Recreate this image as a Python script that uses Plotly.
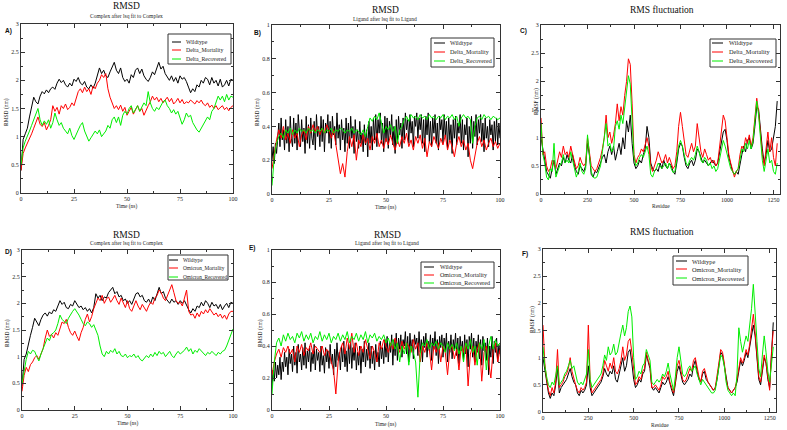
import plotly.graph_objects as go

W, H = 787, 430

# ---------------- DATA ----------------
series_names_delta = ["Wildtype", "Delta_Mortality", "Delta_Recovered"]
series_names_omi = ["Wildtype", "Omicron_Mortality", "Omicron_Recovered"]
colors = ["#000000", "#ff0000", "#00ee00"]

# Panel A: Complex RMSD (nm) vs time (ns), 1 ns spacing
A_wt = [0.40,0.95,1.05,1.15,1.35,1.55,1.70,1.62,1.58,1.72,
        1.80,1.76,1.83,1.78,1.85,1.88,1.84,1.95,2.02,1.96,
        2.00,1.92,1.88,1.95,1.90,2.02,1.98,2.05,1.95,1.92,
        1.98,1.88,1.85,1.92,1.86,1.95,2.10,2.22,2.12,2.18,
        2.08,2.05,2.15,2.25,2.32,2.18,2.12,2.22,2.05,1.98,
        2.02,1.95,2.10,2.05,2.18,2.22,2.12,2.20,2.08,2.02,
        1.98,2.05,2.15,2.10,2.22,2.32,2.20,2.25,2.12,2.05,
        2.00,2.08,1.98,2.05,1.95,2.08,2.02,2.05,1.98,1.88,
        1.78,1.85,1.80,1.92,1.88,2.00,1.95,2.05,2.02,1.92,
        2.05,1.95,2.00,1.90,2.02,1.88,1.92,2.00,1.90,2.02,
        2.00]
A_mort = [0.40,0.70,0.80,0.88,0.95,1.05,1.15,1.25,1.35,1.22,
          1.18,1.25,1.12,1.20,1.30,1.55,1.45,1.52,1.40,1.55,
          1.50,1.58,1.48,1.52,1.60,1.55,1.70,1.80,1.85,1.78,
          1.88,1.80,1.85,1.75,1.90,1.85,1.95,2.00,2.10,2.05,
          2.12,1.85,1.70,1.60,1.50,1.55,1.48,1.56,1.45,1.52,
          1.38,1.45,1.52,1.40,1.48,1.55,1.45,1.50,1.38,1.48,
          1.55,1.62,1.72,1.65,1.70,1.62,1.68,1.60,1.65,1.70,
          1.62,1.68,1.58,1.62,1.68,1.60,1.66,1.58,1.62,1.60,
          1.65,1.62,1.58,1.64,1.60,1.65,1.58,1.55,1.60,1.52,
          1.56,1.50,1.55,1.48,1.52,1.55,1.48,1.52,1.46,1.52,
          1.55]
A_rec = [0.50,0.80,0.92,1.00,1.10,1.20,1.30,1.42,1.50,1.30,
         1.20,1.28,1.22,1.30,1.15,1.25,1.42,1.30,1.20,1.25,
         1.15,1.10,1.05,1.15,1.02,0.95,1.05,1.12,1.20,1.25,
         1.10,1.02,0.92,0.98,1.05,1.10,1.05,1.12,1.00,1.05,
         1.10,1.20,1.15,1.30,1.35,1.25,1.35,1.20,1.38,1.45,
         1.40,1.50,1.55,1.42,1.48,1.55,1.45,1.52,1.60,1.55,
         1.80,1.60,1.50,1.45,1.52,1.48,1.55,1.62,1.65,1.55,
         1.50,1.42,1.48,1.40,1.45,1.35,1.22,1.30,1.42,1.35,
         1.38,1.25,1.18,1.12,1.08,1.15,1.20,1.28,1.35,1.30,
         1.45,1.50,1.62,1.72,1.65,1.72,1.62,1.75,1.65,1.72,
         1.70]

# Panel B: Ligand RMSD (nm) vs time (ns); wildtype stored every 0.5 ns
B_wt = [0.20,0.28,0.18,0.30,0.24,0.35,0.42,0.28,0.45,0.32,
        0.38,0.26,0.44,0.30,0.40,0.25,0.46,0.33,0.28,0.45,
        0.30,0.42,0.26,0.47,0.35,0.28,0.44,0.31,0.39,0.24,
        0.46,0.30,0.41,0.27,0.45,0.33,0.29,0.43,0.26,0.47,
        0.34,0.40,0.28,0.46,0.31,0.44,0.25,0.42,0.36,0.47,
        0.30,0.43,0.27,0.46,0.35,0.40,0.29,0.48,0.33,0.41,
        0.26,0.44,0.32,0.39,0.25,0.45,0.30,0.42,0.27,0.46,
        0.33,0.40,0.24,0.44,0.31,0.38,0.27,0.43,0.30,0.36,
        0.25,0.41,0.29,0.38,0.22,0.43,0.30,0.40,0.26,0.45,
        0.32,0.47,0.28,0.44,0.36,0.48,0.30,0.42,0.25,0.46,
        0.31,0.45,0.27,0.43,0.34,0.47,0.29,0.40,0.24,0.44,
        0.30,0.46,0.35,0.42,0.27,0.45,0.32,0.48,0.38,0.44,
        0.30,0.47,0.36,0.43,0.28,0.46,0.40,0.48,0.33,0.45,
        0.38,0.47,0.30,0.44,0.25,0.46,0.35,0.48,0.31,0.43,
        0.28,0.45,0.36,0.47,0.30,0.42,0.26,0.46,0.38,0.44,
        0.30,0.47,0.34,0.43,0.27,0.45,0.32,0.41,0.24,0.44,
        0.33,0.46,0.29,0.42,0.36,0.47,0.30,0.44,0.26,0.41,
        0.35,0.45,0.22,0.40,0.30,0.46,0.27,0.43,0.34,0.47,
        0.29,0.44,0.36,0.47,0.31,0.42,0.25,0.45,0.33,0.40,
        0.28,0.44,0.35,0.41,0.26,0.43,0.31,0.45,0.29,0.42,
        0.33]
B_mort = [0.15,0.25,0.32,0.38,0.33,0.40,0.32,0.36,0.30,0.38,
          0.33,0.36,0.28,0.35,0.38,0.32,0.40,0.36,0.41,0.37,
          0.40,0.35,0.39,0.36,0.41,0.38,0.33,0.38,0.30,0.22,
          0.12,0.18,0.10,0.25,0.34,0.28,0.35,0.20,0.32,0.28,
          0.35,0.30,0.33,0.26,0.34,0.30,0.36,0.28,0.32,0.27,
          0.33,0.29,0.35,0.30,0.26,0.32,0.28,0.34,0.30,0.36,
          0.28,0.32,0.26,0.34,0.30,0.35,0.27,0.33,0.22,0.31,
          0.28,0.34,0.30,0.27,0.33,0.29,0.35,0.26,0.32,0.28,
          0.22,0.30,0.34,0.28,0.32,0.26,0.30,0.20,0.15,0.22,
          0.30,0.34,0.28,0.32,0.26,0.30,0.33,0.28,0.31,0.27,
          0.30]
B_rec = [0.05,0.22,0.30,0.34,0.36,0.33,0.38,0.36,0.39,0.35,
         0.38,0.36,0.39,0.37,0.38,0.36,0.39,0.37,0.38,0.36,
         0.38,0.37,0.39,0.36,0.38,0.37,0.39,0.36,0.38,0.37,
         0.39,0.38,0.36,0.38,0.37,0.39,0.36,0.38,0.37,0.35,
         0.38,0.34,0.40,0.45,0.43,0.46,0.44,0.48,0.42,0.36,
         0.40,0.38,0.41,0.37,0.40,0.30,0.38,0.40,0.44,0.46,
         0.43,0.47,0.45,0.46,0.44,0.47,0.45,0.46,0.44,0.47,
         0.45,0.46,0.44,0.46,0.45,0.47,0.44,0.46,0.45,0.47,
         0.44,0.46,0.40,0.45,0.47,0.45,0.46,0.44,0.30,0.40,
         0.45,0.46,0.44,0.47,0.45,0.46,0.44,0.46,0.45,0.44,
         0.45]

# Panel C: RMSF (nm) vs residue, 10-residue spacing
C_wt = [1.00,0.75,0.60,0.40,0.35,0.28,0.45,0.60,0.35,0.45,
        0.55,0.50,0.65,0.55,0.70,0.60,0.55,0.70,0.50,0.40,
        0.35,0.50,0.45,0.40,0.50,0.90,0.70,0.35,0.30,0.40,
        0.38,0.45,0.55,0.65,0.70,0.55,0.75,0.85,0.70,0.85,
        0.60,0.75,0.90,0.70,1.00,0.80,1.30,1.10,1.40,0.90,
        0.55,0.45,0.50,0.60,0.55,0.70,0.80,1.20,1.00,0.55,
        0.45,0.40,0.45,0.40,0.55,0.45,0.60,0.50,0.45,0.55,
        0.50,0.40,0.35,0.55,0.80,0.90,0.85,0.65,0.50,0.45,
        0.55,0.60,0.50,0.60,0.80,0.75,0.65,0.55,0.60,0.55,
        0.50,0.55,0.60,0.55,0.50,0.55,0.75,0.90,1.10,1.15,
        0.95,0.65,0.50,0.40,0.35,0.40,0.35,0.55,0.70,0.85,
        0.75,0.95,1.00,0.80,0.90,1.20,1.55,1.50,1.10,0.80,
        0.55,0.70,0.95,0.75,0.80,1.00,1.20,1.65]
C_mort = [1.35,0.70,0.75,0.50,0.40,0.45,0.60,0.55,0.45,0.60,
          0.75,0.65,0.85,0.70,0.75,0.65,0.85,0.70,0.55,0.45,
          0.50,0.65,0.55,0.50,0.55,1.00,0.75,0.50,0.45,0.40,
          0.45,0.55,0.65,0.80,1.00,1.40,1.00,1.10,0.90,1.05,
          1.25,1.60,1.30,1.55,1.40,1.75,2.00,2.40,2.30,1.60,
          0.70,0.55,0.65,0.70,0.80,0.75,0.90,1.00,0.85,0.50,
          0.40,0.50,0.60,0.75,0.65,0.55,0.60,0.70,0.55,0.65,
          0.55,0.45,0.50,0.75,1.20,1.45,1.20,0.90,0.70,0.65,
          0.80,0.90,0.75,0.85,1.25,1.00,0.75,0.65,0.80,0.70,
          0.60,0.65,0.55,0.60,0.50,0.55,0.80,1.15,1.40,1.30,
          1.00,0.70,0.55,0.40,0.30,0.40,0.45,0.70,0.85,0.80,
          1.00,0.90,1.05,0.85,1.00,1.35,1.70,1.45,1.00,0.70,
          0.50,0.80,1.10,0.75,1.00,0.65,0.50,0.90]
C_rec = [1.25,0.70,0.55,0.30,0.25,0.45,0.40,0.90,0.30,0.40,
         0.50,0.55,0.70,0.55,0.60,0.55,0.75,0.60,0.45,0.30,
         0.40,0.55,0.40,0.35,0.45,1.05,0.70,0.40,0.30,0.28,
         0.30,0.40,0.50,0.75,1.00,1.25,0.85,0.90,0.75,0.80,
         1.20,1.30,1.15,1.40,1.25,1.50,1.75,2.10,1.95,1.40,
         0.65,0.50,0.55,0.65,0.70,0.65,0.75,0.85,0.70,0.35,
         0.30,0.40,0.45,0.55,0.50,0.45,0.50,0.55,0.45,0.55,
         0.45,0.38,0.40,0.60,0.85,0.95,0.85,0.70,0.55,0.50,
         0.60,0.65,0.60,0.70,0.85,0.75,0.60,0.55,0.65,0.60,
         0.50,0.55,0.45,0.50,0.40,0.45,0.60,0.80,0.95,0.85,
         0.70,0.55,0.45,0.40,0.35,0.40,0.45,0.60,0.80,0.75,
         0.90,0.80,0.95,0.80,0.95,1.30,1.65,1.40,0.90,0.60,
         0.40,0.60,0.80,0.55,0.60,0.40,0.35,0.55]

# Panel D: Complex RMSD (nm) vs time (ns)
D_wt = [0.45,0.95,1.05,1.25,1.40,1.55,1.72,1.65,1.58,1.70,
        1.78,1.82,1.76,1.84,1.80,1.88,1.85,1.95,2.05,1.98,
        2.02,1.92,1.90,1.98,1.95,2.05,1.98,1.92,1.95,1.88,
        1.92,1.85,1.90,1.82,1.92,2.18,2.10,2.15,2.05,2.12,
        2.10,2.20,2.25,2.30,2.18,2.22,2.12,2.15,2.05,2.08,
        2.00,2.05,1.98,2.10,2.18,2.20,2.12,2.15,2.05,2.02,
        2.08,2.00,2.12,2.05,2.20,2.30,2.18,2.22,2.10,2.05,
        2.00,2.08,2.02,2.05,1.98,2.05,2.00,2.05,1.95,1.88,
        1.82,1.90,1.85,1.95,1.92,2.02,1.95,2.05,2.00,1.92,
        2.02,1.95,1.98,1.90,1.98,1.88,1.95,2.00,1.92,2.02,
        2.00]
D_mort = [0.35,0.65,0.80,0.72,0.85,0.90,0.98,1.02,0.95,1.05,
          1.15,1.35,1.50,1.38,1.42,1.35,1.45,1.40,1.55,1.65,
          1.62,1.70,1.55,1.45,1.40,1.48,1.38,1.30,1.45,1.55,
          1.70,1.80,1.65,1.75,1.90,2.00,2.10,2.05,2.15,2.00,
          2.08,2.12,2.02,2.08,2.15,2.05,1.98,2.10,2.00,1.92,
          2.05,1.90,1.85,1.95,2.05,1.95,1.88,1.98,1.90,1.85,
          1.95,2.02,1.98,2.10,2.15,2.25,2.20,2.10,2.05,2.15,
          2.25,2.35,2.20,2.05,2.00,2.02,1.95,2.12,2.25,1.85,
          1.78,1.80,1.72,1.82,1.75,1.85,1.80,1.88,1.82,1.90,
          1.85,1.78,1.82,1.75,1.80,1.72,1.78,1.70,1.80,1.85,
          1.85]
D_rec = [0.50,0.75,0.95,1.10,1.05,1.12,1.10,1.00,0.92,1.05,
         1.15,1.25,1.35,1.30,1.42,1.45,1.50,1.62,1.78,1.70,
         1.65,1.62,1.72,1.80,1.85,1.90,1.85,1.78,1.70,1.62,
         1.58,1.65,1.62,1.55,1.60,1.50,1.40,1.20,1.05,1.00,
         1.10,1.05,1.12,1.08,1.15,1.05,1.10,1.02,1.00,1.05,
         0.98,1.02,1.00,1.05,0.98,1.02,0.95,0.92,0.98,1.02,
         0.98,1.05,1.00,1.08,1.02,1.10,1.05,1.08,1.00,1.05,
         1.10,1.02,0.98,1.05,1.10,1.05,1.08,1.12,1.18,1.10,
         1.15,1.05,1.12,1.08,1.15,1.10,1.05,1.02,1.08,1.05,
         1.10,1.05,1.02,1.08,1.05,1.10,1.12,1.20,1.30,1.40,
         1.52]

# Panel E: Ligand RMSD (nm) vs time (ns); wildtype stored every 0.5 ns
E_wt = [0.15,0.25,0.18,0.30,0.20,0.28,0.22,0.33,0.19,0.30,
        0.24,0.36,0.27,0.33,0.22,0.38,0.29,0.35,0.24,0.40,
        0.28,0.36,0.23,0.41,0.30,0.35,0.25,0.39,0.28,0.42,
        0.26,0.37,0.30,0.40,0.24,0.36,0.29,0.41,0.25,0.38,
        0.31,0.36,0.24,0.40,0.28,0.34,0.23,0.39,0.30,0.37,
        0.26,0.41,0.29,0.35,0.22,0.38,0.27,0.42,0.31,0.36,
        0.25,0.40,0.30,0.43,0.27,0.37,0.24,0.41,0.29,0.44,
        0.26,0.39,0.31,0.42,0.25,0.36,0.28,0.40,0.23,0.38,
        0.30,0.43,0.27,0.38,0.31,0.42,0.26,0.40,0.29,0.37,
        0.25,0.41,0.30,0.36,0.27,0.43,0.32,0.39,0.29,0.44,
        0.33,0.46,0.30,0.42,0.36,0.47,0.28,0.44,0.34,0.48,
        0.31,0.45,0.38,0.47,0.33,0.44,0.40,0.49,0.35,0.46,
        0.30,0.48,0.37,0.44,0.32,0.47,0.41,0.45,0.34,0.49,
        0.36,0.44,0.30,0.46,0.39,0.48,0.33,0.43,0.37,0.47,
        0.31,0.45,0.38,0.49,0.34,0.44,0.29,0.46,0.39,0.47,
        0.33,0.45,0.37,0.48,0.30,0.43,0.36,0.47,0.32,0.44,
        0.38,0.48,0.34,0.45,0.29,0.46,0.37,0.43,0.31,0.47,
        0.35,0.44,0.27,0.46,0.38,0.48,0.33,0.45,0.30,0.43,
        0.36,0.47,0.32,0.44,0.28,0.46,0.37,0.42,0.31,0.45,
        0.22,0.40,0.33,0.46,0.29,0.43,0.36,0.45,0.30,0.41,
        0.35]
E_mort = [0.22,0.30,0.35,0.38,0.33,0.39,0.36,0.40,0.35,0.38,
          0.30,0.40,0.36,0.41,0.34,0.39,0.37,0.42,0.35,0.40,
          0.38,0.36,0.40,0.34,0.38,0.36,0.30,0.25,0.10,0.30,
          0.38,0.42,0.35,0.45,0.38,0.48,0.36,0.42,0.34,0.40,
          0.36,0.44,0.38,0.32,0.40,0.36,0.30,0.42,0.38,0.44,
          0.40,0.36,0.42,0.38,0.45,0.40,0.36,0.43,0.38,0.42,
          0.40,0.36,0.44,0.38,0.42,0.30,0.40,0.36,0.42,0.38,
          0.25,0.40,0.36,0.42,0.30,0.40,0.36,0.22,0.38,0.40,
          0.32,0.38,0.25,0.40,0.36,0.42,0.15,0.35,0.40,0.28,
          0.38,0.42,0.18,0.36,0.40,0.30,0.20,0.38,0.42,0.30,
          0.38]
E_rec = [0.10,0.30,0.42,0.45,0.40,0.47,0.43,0.48,0.44,0.46,
         0.42,0.48,0.45,0.49,0.43,0.47,0.44,0.48,0.42,0.46,
         0.44,0.49,0.43,0.47,0.44,0.48,0.42,0.46,0.44,0.48,
         0.43,0.47,0.44,0.49,0.42,0.46,0.44,0.48,0.43,0.47,
         0.44,0.49,0.42,0.47,0.45,0.48,0.43,0.46,0.44,0.47,
         0.42,0.45,0.40,0.44,0.38,0.42,0.30,0.40,0.35,0.42,
         0.28,0.40,0.36,0.30,0.08,0.35,0.42,0.40,0.44,0.38,
         0.42,0.40,0.43,0.38,0.42,0.40,0.36,0.42,0.38,0.41,
         0.37,0.42,0.35,0.40,0.30,0.42,0.38,0.44,0.36,0.40,
         0.28,0.42,0.38,0.44,0.25,0.40,0.46,0.38,0.44,0.40,
         0.42]

# Panel F: RMSF (nm) vs residue, 10-residue spacing
F_wt = [1.00,0.80,0.55,0.35,0.25,0.35,0.30,0.50,0.80,0.35,
        0.45,0.50,0.55,0.60,0.70,0.80,0.65,0.55,0.50,0.35,
        0.30,0.40,0.35,0.40,0.50,0.85,0.45,0.30,0.35,0.40,
        0.45,0.50,0.55,0.65,0.80,0.70,0.65,0.75,0.70,0.85,
        0.60,0.55,0.70,0.80,1.00,0.75,0.85,1.10,1.15,0.90,
        0.60,0.45,0.50,0.60,0.55,0.70,0.75,1.05,0.90,0.80,
        0.45,0.40,0.45,0.40,0.35,0.45,0.55,0.50,0.55,0.65,
        0.50,0.40,0.30,0.50,0.75,0.85,0.70,0.55,0.50,0.55,
        0.60,0.70,0.65,0.85,0.95,0.75,0.60,0.55,0.70,0.75,
        0.60,0.55,0.50,0.45,0.40,0.45,0.60,0.85,1.10,1.05,
        0.85,0.60,0.45,0.40,0.35,0.40,0.45,0.55,0.80,0.95,
        0.85,0.95,1.10,1.00,1.20,1.40,1.60,1.40,1.00,0.60,
        0.50,0.80,1.00,0.90,0.60,0.45,1.20,1.65]
F_mort = [1.60,0.90,0.60,0.40,0.30,0.45,0.35,0.55,1.15,0.45,
          0.50,0.55,0.65,0.70,0.80,1.00,0.75,0.60,0.50,0.40,
          0.35,0.45,0.40,0.45,0.55,1.60,0.60,0.35,0.40,0.45,
          0.50,0.55,0.60,0.70,0.95,0.85,0.75,0.90,0.80,1.00,
          0.75,0.70,0.80,0.95,1.20,0.95,1.05,1.30,1.35,1.10,
          0.75,0.50,0.55,0.65,0.60,0.75,0.80,1.10,0.95,0.85,
          0.45,0.45,0.50,0.45,0.40,0.50,0.65,0.60,0.65,0.75,
          0.55,0.45,0.35,0.55,0.85,0.95,0.80,0.60,0.55,0.60,
          0.70,0.80,0.75,0.95,1.00,0.80,0.65,0.55,0.75,0.80,
          0.65,0.55,0.50,0.45,0.40,0.45,0.65,0.90,1.15,1.10,
          0.90,0.60,0.45,0.40,0.35,0.40,0.45,0.60,0.85,1.00,
          0.90,1.00,1.15,1.05,1.25,1.50,1.80,1.45,1.05,0.65,
          0.55,0.85,1.05,0.90,0.65,0.40,1.10,1.50]
F_rec = [1.20,0.85,0.65,0.50,0.45,0.55,0.50,0.65,0.85,0.50,
         0.55,0.60,0.70,0.75,0.85,0.95,0.80,0.85,0.70,0.55,
         0.50,0.55,0.50,0.60,0.70,1.15,0.60,0.45,0.50,0.55,
         0.60,0.65,0.70,0.85,1.05,0.95,1.20,1.05,1.10,1.25,
         1.05,1.10,1.30,1.45,1.60,1.40,1.55,1.85,1.95,1.75,
         1.00,0.60,0.65,0.75,0.70,0.85,0.90,1.15,1.05,0.95,
         0.55,0.50,0.55,0.60,0.55,0.60,0.70,0.65,0.75,0.90,
         0.70,0.55,0.40,0.65,1.00,1.20,0.95,0.70,0.65,0.70,
         0.80,0.85,0.75,0.80,0.85,0.70,0.60,0.50,0.60,0.55,
         0.50,0.45,0.40,0.35,0.35,0.40,0.60,0.85,1.05,1.00,
         0.85,0.55,0.40,0.35,0.30,0.35,0.30,0.70,1.55,1.30,
         1.10,1.25,1.40,1.30,1.60,1.90,2.35,1.90,1.30,0.80,
         0.65,1.05,1.40,1.10,0.75,0.55,0.90,1.20]

TIME_SPAN = 100    # ns covered by each RMSD series
RES_STEP = 10      # residues between stored RMSF points

# ---------------- LAYOUT HELPERS ----------------
SERIF = "Liberation Serif"
SANS = "Liberation Sans"


def fx(p):
    return p / W


def fy(p):
    return 1 - p / H


panels = [
    dict(label="A)", lab=(3, 31), box=(21, 233, 24, 193), data=[A_wt, A_mort, A_rec],
         names=series_names_delta, kind="time", yr=[0, 3], ydt=0.5,
         title="RMSD", title_xy=(126, 6), sub="Complex after lsq fit to Complex", sub_y=16,
         ytitle="RMSD (nm)", yt_xy=(6, 112), xtitle="Time (ns)", xt_y=206,
         leg=dict(box=(168, 231, 34, 64), lx=(172, 181), tx=184, rows=(42, 50, 59), fs=5.8)),
    dict(label="B)", lab=(252, 33), box=(272, 500, 25, 194), data=[B_wt, B_mort, B_rec],
         names=series_names_delta, kind="time", yr=[0, 1], ydt=0.2,
         title="RMSD", title_xy=(385, 10), sub="Ligand after lsq fit to Ligand", sub_y=19,
         ytitle="RMSD (nm)", yt_xy=(257, 112), xtitle="Time (ns)", xt_y=207,
         leg=dict(box=(431, 494, 38, 67), lx=(434, 445), tx=448, rows=(43, 52, 61), fs=6.0)),
    dict(label="C)", lab=(518, 31), box=(541, 780, 25, 194), data=[C_wt, C_mort, C_rec],
         names=series_names_delta, kind="res", yr=[0, 3], ydt=0.5,
         title="RMS fluctuation", title_xy=(662, 10), sub=None, sub_y=None,
         ytitle="RMSF (nm)", yt_xy=(536, 102), xtitle="Residue", xt_y=206,
         leg=dict(box=(710, 776, 39, 67), lx=(712, 723), tx=727, rows=(43, 52, 61), fs=6.3)),
    dict(label="D)", lab=(3, 252), box=(22, 233, 250, 410), data=[D_wt, D_mort, D_rec],
         names=series_names_omi, kind="time", yr=[0, 3], ydt=0.5,
         title="RMSD", title_xy=(126, 235), sub="Complex after lsq fit to Complex", sub_y=243,
         ytitle="RMSD (nm)", yt_xy=(7, 333), xtitle="Time (ns)", xt_y=423,
         leg=dict(box=(168, 228, 255, 280), lx=(169, 178), tx=181, rows=(260, 268, 277), fs=5.3)),
    dict(label="E)", lab=(247, 248), box=(272, 500, 250, 410), data=[E_wt, E_mort, E_rec],
         names=series_names_omi, kind="time", yr=[0, 1], ydt=0.2,
         title="RMSD", title_xy=(387, 235), sub="Ligand after lsq fit to Ligand", sub_y=243,
         ytitle="RMSD (nm)", yt_xy=(260, 333), xtitle="Time (ns)", xt_y=424,
         leg=dict(box=(421, 494, 262, 288), lx=(424, 434), tx=438, rows=(267, 275, 283), fs=6.0)),
    dict(label="F)", lab=(520, 254), box=(543, 776, 249, 412), data=[F_wt, F_mort, F_rec],
         names=series_names_omi, kind="res", yr=[0, 3], ydt=0.5,
         title="RMS fluctuation", title_xy=(662, 232), sub=None, sub_y=None,
         ytitle="RMSF (nm)", yt_xy=(532, 320), xtitle="Residue", xt_y=425,
         leg=dict(box=(673, 748, 256, 285), lx=(676, 687), tx=690, rows=(261, 269, 278), fs=6.3)),
]

fig = go.Figure()
annotations = []
shapes = []
layout_axes = {}

AXC = "#333333"

for i, p in enumerate(panels, start=1):
    sfx = "" if i == 1 else str(i)
    l, r, t, b = p["box"]
    if p["kind"] == "time":
        xr, xdt, xminor = [0, 100], 25, 12.5
    else:
        xr, xdt, xminor = [0, 1285], 250, 125
    common = dict(showline=True, linecolor=AXC, linewidth=1, mirror="allticks",
                  ticks="inside", ticklen=4, tickwidth=1, tickcolor=AXC,
                  showgrid=False, zeroline=False, automargin=False,
                  tickfont=dict(family=SERIF, size=6, color="#222"))
    layout_axes["xaxis" + sfx] = dict(common, domain=[fx(l), fx(r)], anchor="y" + sfx,
                                      range=xr, dtick=xdt, tick0=0,
                                      minor=dict(ticks="inside", ticklen=2, tickcolor=AXC, dtick=xminor, tick0=0))
    layout_axes["yaxis" + sfx] = dict(common, domain=[fy(b), fy(t)], anchor="x" + sfx,
                                      range=p["yr"], dtick=p["ydt"], tick0=0,
                                      minor=dict(ticks="inside", ticklen=2, tickcolor=AXC, dtick=p["ydt"] / 2, tick0=0))
    for vals, name, col in zip(p["data"], p["names"], colors):
        if p["kind"] == "time":
            step = TIME_SPAN / (len(vals) - 1)
        else:
            step = RES_STEP
        xs = [k * step for k in range(len(vals))]
        fig.add_trace(go.Scatter(x=xs, y=vals, mode="lines", name=name,
                                 line=dict(color=col, width=1), showlegend=False,
                                 xaxis="x" + sfx, yaxis="y" + sfx))
    # titles
    annotations.append(dict(text=p["title"], x=fx(p["title_xy"][0]), y=fy(p["title_xy"][1]),
                            xref="paper", yref="paper", showarrow=False, xanchor="center", yanchor="middle",
                            font=dict(family=SERIF, size=9.5, color="#111")))
    if p["sub"]:
        annotations.append(dict(text=p["sub"], x=fx(p["title_xy"][0]), y=fy(p["sub_y"]),
                                xref="paper", yref="paper", showarrow=False, xanchor="center", yanchor="middle",
                                font=dict(family=SERIF, size=5.5, color="#222")))
    # panel label
    annotations.append(dict(text="<b>" + p["label"] + "</b>", x=fx(p["lab"][0]), y=fy(p["lab"][1]),
                            xref="paper", yref="paper", showarrow=False, xanchor="left", yanchor="middle",
                            font=dict(family=SANS, size=6.5, color="#111")))
    # axis titles
    annotations.append(dict(text=p["ytitle"], x=fx(p["yt_xy"][0]), y=fy(p["yt_xy"][1]),
                            xref="paper", yref="paper", showarrow=False, xanchor="center", yanchor="middle",
                            textangle=-90, font=dict(family=SERIF, size=5.5, color="#222")))
    annotations.append(dict(text=p["xtitle"], x=(fx(l) + fx(r)) / 2, y=fy(p["xt_y"]),
                            xref="paper", yref="paper", showarrow=False, xanchor="center", yanchor="middle",
                            font=dict(family=SERIF, size=5.5, color="#222")))
    # legend box
    lg = p["leg"]
    bl, br, bt, bb = lg["box"]
    shapes.append(dict(type="rect", xref="paper", yref="paper", x0=fx(bl), x1=fx(br), y0=fy(bb), y1=fy(bt),
                       line=dict(color="#333", width=1), fillcolor="white", layer="above"))
    for name, col, ry in zip(p["names"], colors, lg["rows"]):
        shapes.append(dict(type="line", xref="paper", yref="paper", x0=fx(lg["lx"][0]), x1=fx(lg["lx"][1]),
                           y0=fy(ry), y1=fy(ry), line=dict(color=col, width=1), layer="above"))
        annotations.append(dict(text=name, x=fx(lg["tx"]), y=fy(ry), xref="paper", yref="paper",
                                showarrow=False, xanchor="left", yanchor="middle",
                                font=dict(family=SERIF, size=lg["fs"], color="#222")))

fig.update_layout(width=W, height=H, margin=dict(l=0, r=0, t=0, b=0),
                  paper_bgcolor="white", plot_bgcolor="white", showlegend=False,
                  annotations=annotations, shapes=shapes, **layout_axes)

fig.write_html("out.html", config={"displayModeBar": False},
               post_script="document.body.style.margin='0';document.body.style.overflow='hidden';")
